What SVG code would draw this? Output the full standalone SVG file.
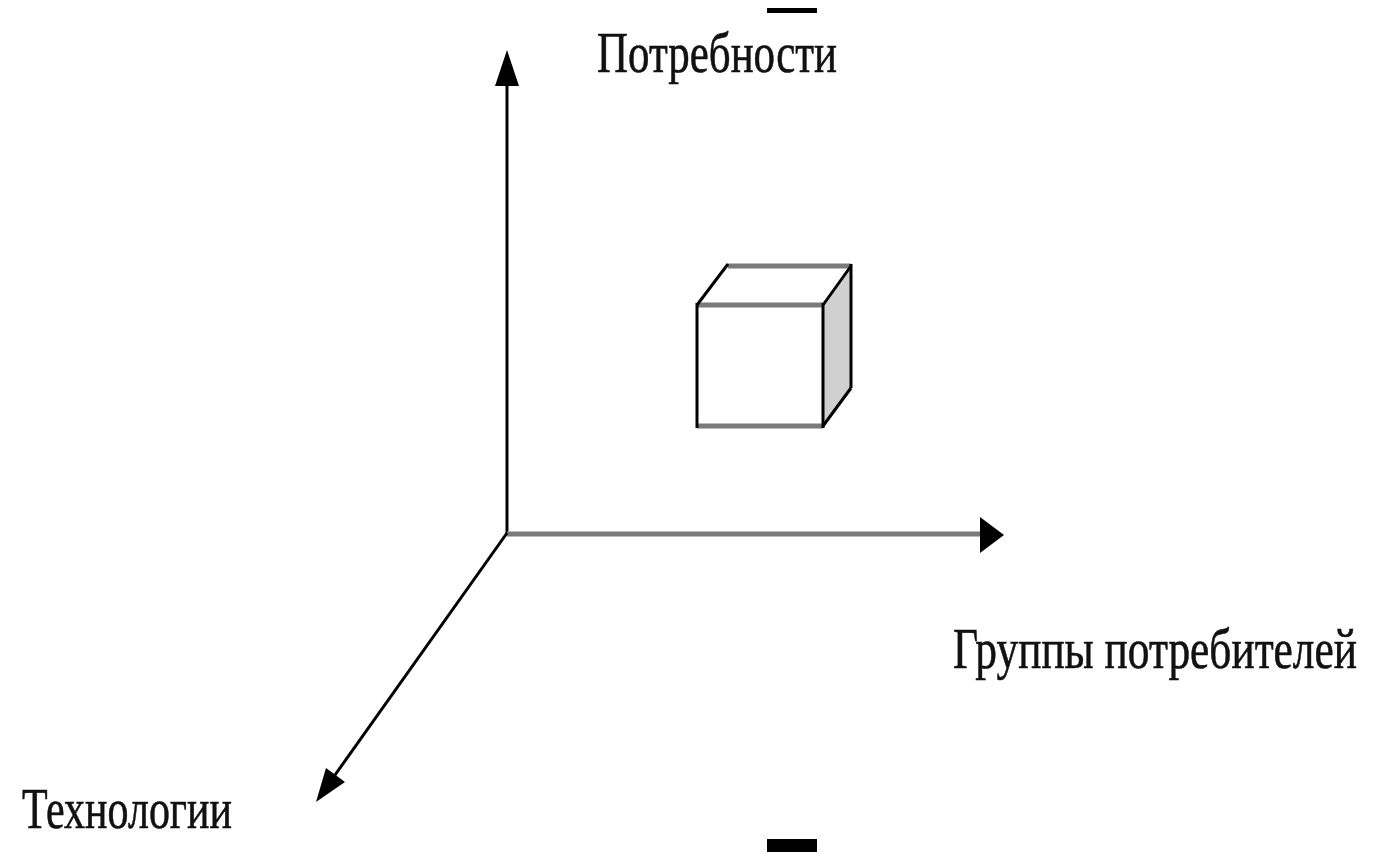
<svg xmlns="http://www.w3.org/2000/svg" width="1374" height="854" viewBox="0 0 1374 854">
<style>
.lbl{font-family:"Liberation Serif","Times New Roman",serif;font-size:58px;fill:#111;stroke:#111;stroke-width:0.6}
.ax{stroke:#000;stroke-width:3;fill:none}
.gray{stroke:#7a7a7a;stroke-width:5;fill:none}
.edge{stroke:#000;stroke-width:3}
.ah{fill:#000}
</style>
<rect width="1374" height="854" fill="#fff"/>
<rect x="767" y="8" width="50" height="5" fill="#000"/>
<rect x="767" y="839" width="50" height="13" fill="#000"/>
<g id="connectors">
<line class="ax" x1="507" y1="535" x2="507" y2="80"/>
<polygon class="ah" points="507,50 495,86 519,86"/>
<line class="gray" x1="507" y1="534" x2="985" y2="534"/>
<polygon class="ah" points="1004,535 980,517 980,553"/>
<line class="ax" x1="507" y1="533" x2="330" y2="782"/>
<polygon class="ah" points="316,802 326,768 345,782"/>
</g>
<g id="cube">
<polygon points="823,305 851,266 851,388 823,426" fill="#d0d0d0"/>
<line class="gray" x1="697" y1="305" x2="823" y2="305"/>
<line class="gray" x1="697" y1="426" x2="823" y2="426"/>
<line class="gray" x1="728" y1="266" x2="851" y2="266"/>
<line class="edge" x1="697" y1="305" x2="728" y2="264"/>
<line class="edge" x1="823" y1="305" x2="851" y2="266"/>
<line class="edge" x1="823" y1="426" x2="851" y2="388"/>
<line class="ax" x1="697" y1="303" x2="697" y2="428"/>
<line class="ax" x1="823" y1="303" x2="823" y2="428"/>
<line class="ax" x1="851" y1="264" x2="851" y2="388"/>
</g>
<g id="label-needs"><text class="lbl" x="597" y="72" textLength="240" lengthAdjust="spacingAndGlyphs">Потребности</text></g>
<g id="label-groups"><text class="lbl" x="953" y="668" textLength="404" lengthAdjust="spacingAndGlyphs">Группы потребителей</text></g>
<g id="label-tech"><text class="lbl" x="22" y="828" textLength="210" lengthAdjust="spacingAndGlyphs">Технологии</text></g>
</svg>
